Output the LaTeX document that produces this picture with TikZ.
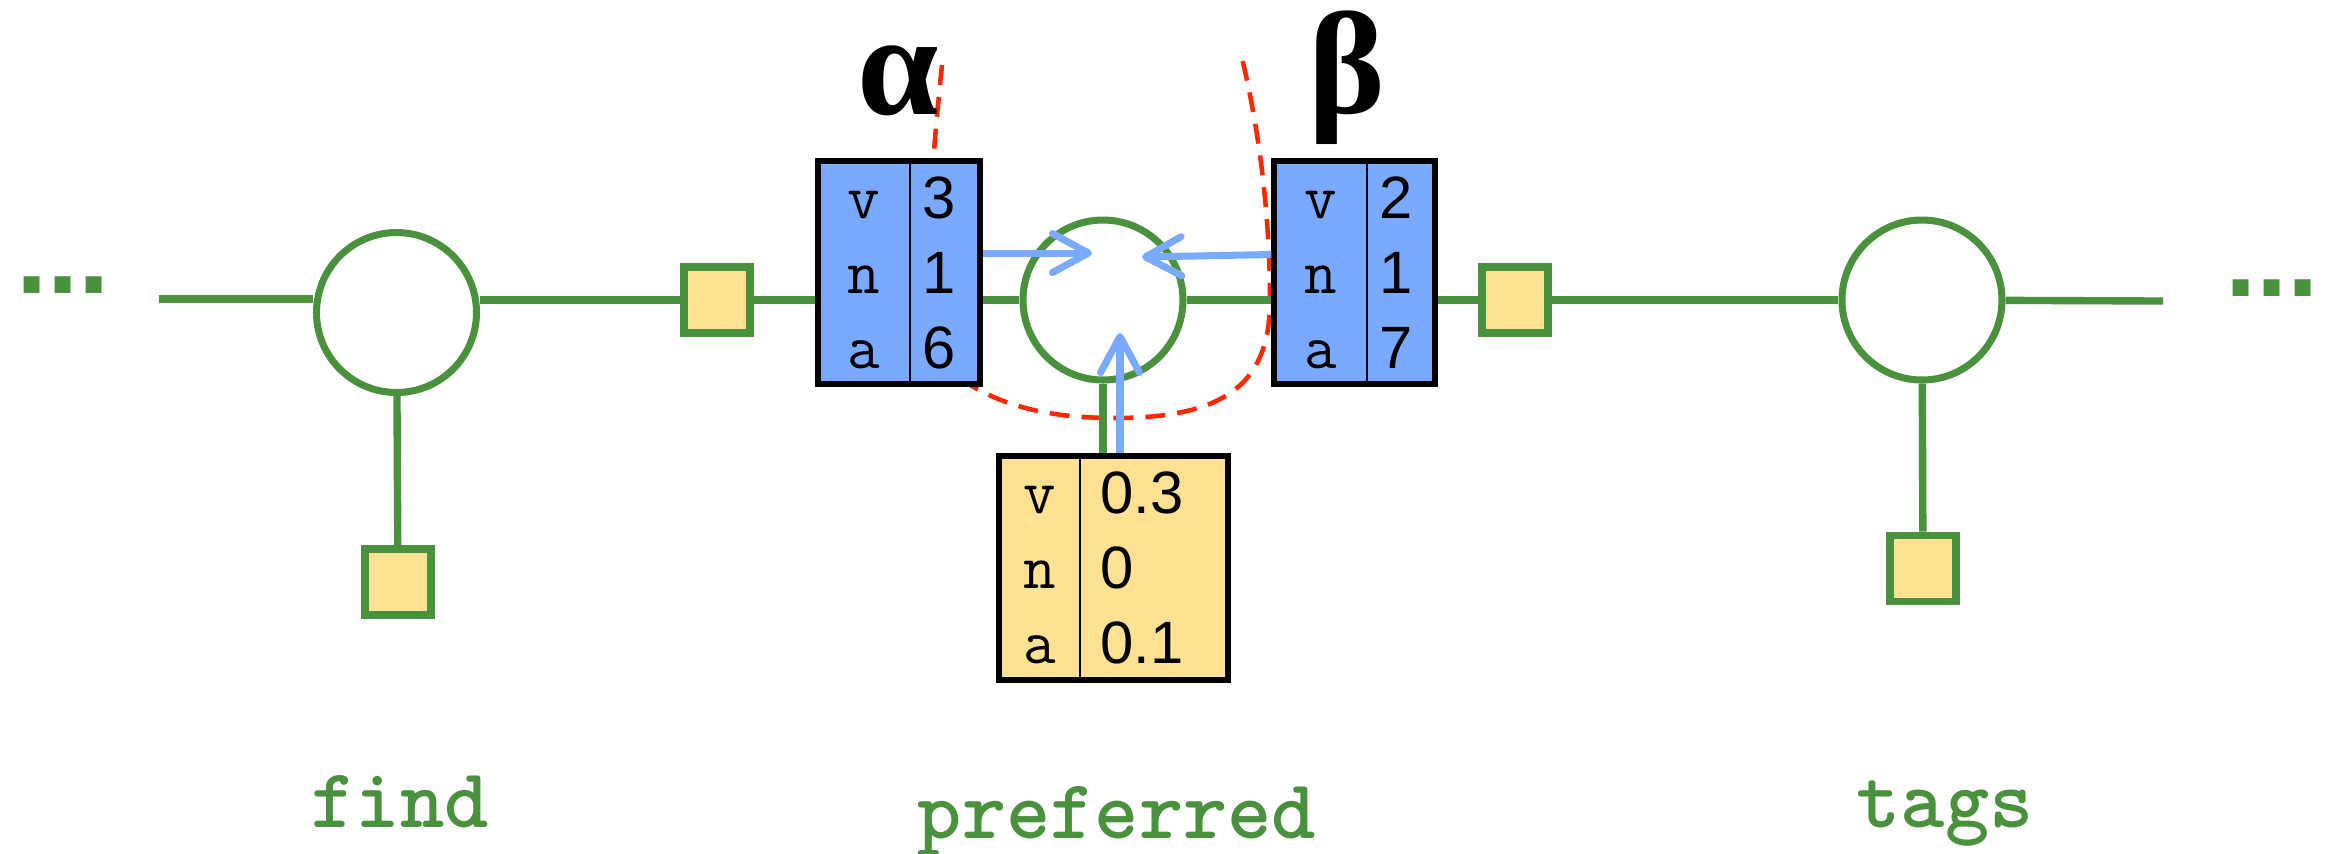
\documentclass[tikz,border=0pt]{standalone}
\usepackage{fontspec}
\usetikzlibrary{arrows.meta, positioning, fit}
\usepackage{xcolor}
\newfontfamily\digitfont{Liberation Sans}
\newfontfamily\greekfont{Liberation Serif}
\definecolor{fgreen}{RGB}{74,145,62}
\definecolor{fyellow}{RGB}{255,225,148}
\definecolor{fblue}{RGB}{122,170,255}
\definecolor{fred}{RGB}{255,40,0}
\newcommand{\rowstrut}{\vrule height 16.1pt depth 4.3pt width 0pt}
\newcommand{\trio}[3]{\rowstrut#1\\\rowstrut#2\\\rowstrut#3}

\begin{document}
\begin{tikzpicture}[
  var/.style={circle, draw=fgreen, line width=2pt, fill=white, minimum size=1.60cm, inner sep=0pt},
  fac/.style={rectangle, draw=fgreen, line width=2.2pt, fill=fyellow, minimum size=0.66cm, inner sep=0pt},
  edge/.style={draw=fgreen, line width=2.1pt},
  col/.style={rectangle, inner sep=0pt, minimum height=2.17cm, align=center},
  key/.style={col, font=\ttfamily\fontsize{18}{20.4}\selectfont},
  num/.style={col, align=left, inner xsep=0.12cm, font=\digitfont\fontsize{17}{20.4}\selectfont},
  box/.style={draw=black, line width=1.7pt, inner sep=0pt},
  divider/.style={line width=0.65pt},
  flow/.style={draw=fblue, line width=2pt, -{Straight Barb[length=3.6mm, width=3.9mm, round]}},
  word/.style={text=fgreen, font=\ttfamily\bfseries\fontsize{24}{26}\selectfont},
  dots/.style={text=fgreen, font=\digitfont\bfseries\fontsize{32}{34}\selectfont},
  greek/.style={font=\greekfont\bfseries\fontsize{41.5}{45}\selectfont}
]
\useasboundingbox (0,0) rectangle (23.31,-8.53);

% red boundary around the middle variable
\draw[fred, line width=1.3pt, dash pattern=on 5.7pt off 3.4pt]
  (9.42,-0.65) .. controls (9.25,-2.3) and (9.2,-3.4) .. (9.67,-3.83)
  .. controls (10.1,-4.1) and (10.6,-4.18) .. (11.15,-4.18)
  .. controls (12.3,-4.18) and (12.70,-3.8) .. (12.70,-3.0)
  .. controls (12.70,-2.0) and (12.55,-1.1) .. (12.40,-0.50);

% variables and factors
\node[var] (find) at (3.965,-3.125) {};
\node[var] (pref) at (11.03,-3.00) {};
\node[var] (tags) at (19.22,-3.00) {};
\node[fac] (fac1) at (7.17,-3.00) {};
\node[fac] (fac2) at (15.15,-3.00) {};
\node[fac] (findf) at (3.98,-5.82) {};
\node[fac] (tagsf) at (19.23,-5.685) {};

% messages
\node[key, fill=fblue, minimum width=0.90cm] (alphaL) at (8.64,-2.725) {\trio{v}{n}{a}};
\node[num, fill=fblue, text width=0.45cm, right=0pt of alphaL] (alphaR) {\trio{3}{1}{6}};
\draw[divider] (alphaL.north east) -- (alphaL.south east);
\node[box, fit=(alphaL)(alphaR)] (alpha) {};

\node[key, fill=fblue, minimum width=0.91cm] (betaL) at (13.205,-2.725) {\trio{v}{n}{a}};
\node[num, fill=fblue, text width=0.43cm, right=0pt of betaL] (betaR) {\trio{2}{1}{7}};
\draw[divider] (betaL.north east) -- (betaL.south east);
\node[box, fit=(betaL)(betaR)] (beta) {};

\node[key, fill=fyellow, minimum width=0.79cm, minimum height=2.18cm] (prefL) at (10.395,-5.68) {\trio{v}{n}{a}};
\node[num, fill=fyellow, minimum height=2.18cm, inner xsep=0.2cm, text width=1.07cm,
  right=0pt of prefL] (prefR) {\trio{0.3}{0}{0.1}};
\draw[divider] (prefL.north east) -- (prefL.south east);
\node[box, fit=(prefL)(prefR)] (prefbox) {};

% chain
\coordinate (lend) at (1.59,-2.99);
\coordinate (rend) at (21.63,-3.01);
\draw[edge] (lend) -- (lend -| find.west);
\draw[edge] (find.east |- fac1) -- (fac1);
\draw[edge] (fac1) -- (fac1 -| alpha.west);
\draw[edge] (alpha.east |- pref) -- (pref);
\draw[edge] (pref) -- (pref -| beta.west);
\draw[edge] (beta.east |- fac2) -- (fac2);
\draw[edge] (fac2) -- (tags);
\draw[edge] (tags) -- (rend);
\draw[edge] (find) -- (findf);
\draw[edge] (tags) -- (tagsf);
\draw[edge] (pref.south) -- (pref.south |- prefbox.north);

% incoming messages
\coordinate (tipA) at (10.92,-2.53);
\coordinate (tipB) at (11.42,-2.57);
\coordinate (tipU) at (11.20,-3.33);
\draw[flow] (tipA -| alpha.east) -- (tipA);
\draw[flow] ([yshift=0.18cm]beta.west) -- (tipB);
\draw[flow] (tipU |- prefbox.north) -- (tipU);

% labels
\node[greek, anchor=base] (lalpha) at (8.98,-1.14) {α};
\node[greek, anchor=base] (lbeta) at (13.47,-1.13) {β};
\node[dots, anchor=base] (ldots) at (0.63,-2.93) {...};
\node[dots, anchor=base] (rdots) at (22.72,-2.96) {...};
\node[word, anchor=base] (wfind) at (4.00,-8.27) {find};
\node[word, anchor=base] (wpref) at (11.17,-8.38) {preferred};
\node[word, anchor=base] (wtags) at (19.45,-8.27) {tags};
\end{tikzpicture}
\end{document}
